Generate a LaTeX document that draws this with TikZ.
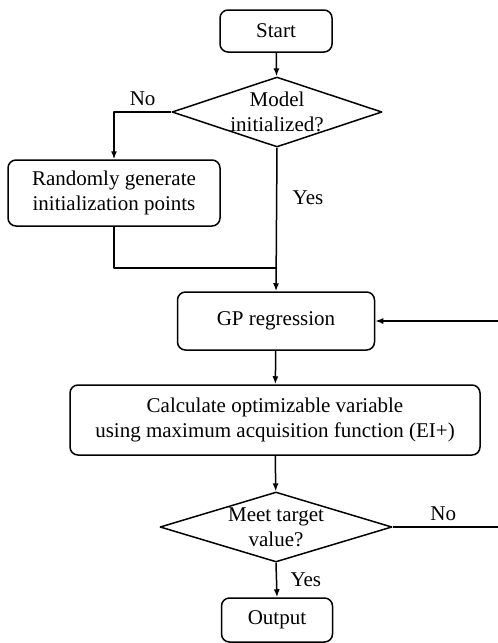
\documentclass[tikz,border=0pt]{standalone}
\usepackage{fontspec}
\setmainfont{Liberation Serif}
\usetikzlibrary{arrows.meta,shapes.geometric}
\tikzset{
  every picture/.style={line join=round, >={Latex[length=8pt,width=6pt]}},
  flowbox/.style={draw, rounded corners=8pt, line width=1.5pt, align=center, inner sep=0pt},
  decide/.style={draw, diamond, line width=1.5pt, inner sep=0pt},
  flowline/.style={line width=1.5pt},
}

\begin{document}
\begin{tikzpicture}[x=1pt,y=-1pt,font=\fontsize{21}{25}\selectfont]
\clip (0,0) rectangle (498,643);
% nodes
\node[flowbox,minimum width=112pt,minimum height=42pt] (start) at (276,31) {Start};
\node[decide,minimum width=210pt,minimum height=70pt,
  label={[align=center,inner sep=0pt]center:Model\\initialized?}] (init) at (277,112) {};
\node[flowbox,minimum width=212pt,minimum height=66pt] (rand) at (114,193) {Randomly generate\\initialization points};
\node[flowbox,minimum width=197pt,minimum height=58pt] (gp) at (276,321) {GP regression};
\node[flowbox,minimum width=410pt,minimum height=70pt] (calc) at (275,420) {Calculate optimizable variable\\using maximum acquisition function (EI+)};
\node[decide,minimum width=232pt,minimum height=70pt,
  label={[align=center,inner sep=0pt]center:Meet target\\value?}] (meet) at (276,527) {};
\node[flowbox,minimum width=111pt,minimum height=44pt] (out) at (277,620) {Output};
\coordinate (join) at (276,268);
\coordinate (loopa) at (505,527);
\coordinate (loopb) at (505,321);
% connectors
\draw[flowline,->] (start) -- (init);
\draw[flowline,->] (init.west) -| node[pos=0.25,above=2pt]{No} (rand.north);
\draw[flowline,->] (init.south) -- node[pos=0.35,right=12pt]{Yes} (gp.north);
\draw[flowline] (rand.south) |- (join);
\draw[flowline,->] (gp) -- (calc);
\draw[flowline,->] (calc) -- (meet);
\draw[flowline,->] (meet.south) -- node[midway,right=10pt]{Yes} (out.north);
\draw[flowline,->] (meet.east) -- node[pos=0.45,above=2pt]{No} (loopa) -- (loopb) -- (gp.east);
\end{tikzpicture}
\end{document}
